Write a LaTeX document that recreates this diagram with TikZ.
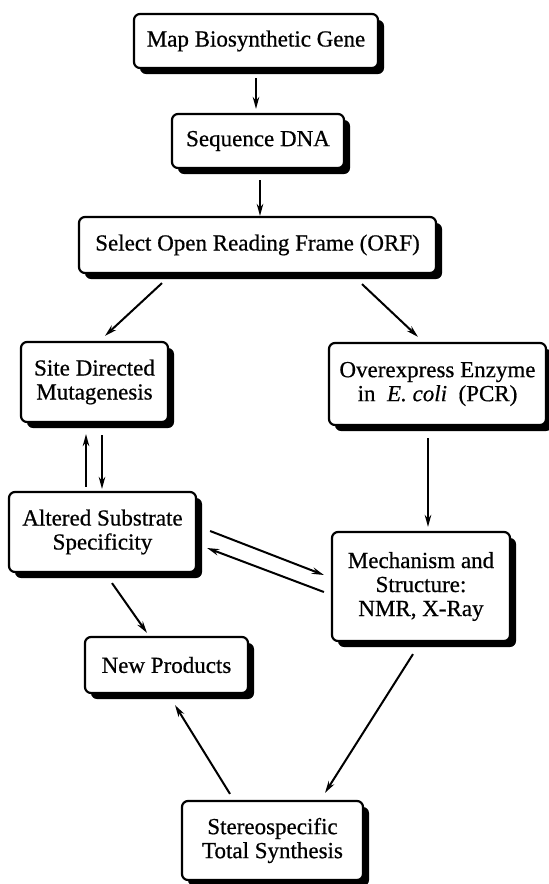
\documentclass[tikz,border=0pt]{standalone}
\usepackage{fontspec}
\setmainfont{Liberation Serif}
\newfontfamily\boxfont[FakeBold=0.6]{Liberation Serif}
\usetikzlibrary{arrows.meta,shadows,calc}
\begin{document}
\begin{tikzpicture}[x=1pt,y=-1pt,
  box/.style={draw, line width=2.2pt, rounded corners=6pt, fill=white,
    drop shadow={shadow xshift=6pt, shadow yshift=-6pt, opacity=1, fill=black},
    inner sep=0pt, align=center, font=\boxfont\fontsize{23}{24}\selectfont},
  arr/.style={line width=2pt, -{Stealth[length=12pt,width=6.5pt]}}]
\useasboundingbox (0,0) rectangle (549,884);
\node[box, minimum width=244pt, minimum height=54pt] (map) at (256,41) {Map Biosynthetic Gene};
\node[box, minimum width=172pt, minimum height=54pt] (seq) at (258,141) {Sequence DNA};
\node[box, minimum width=357pt, minimum height=56pt] (orf) at (257.5,245) {Select Open Reading Frame (ORF)};
\node[box, minimum width=147pt, minimum height=80pt] (site) at (94.5,382) {Site Directed\\Mutagenesis};
\node[box, minimum width=217pt, minimum height=82pt] (over) at (437.5,384) {Overexpress Enzyme\\in\ \ {\fontspec[FakeBold=0.6]{Liberation Serif Italic}E. coli}\ \ (PCR)};
\node[box, minimum width=187pt, minimum height=80pt] (alt) at (102.5,532) {Altered Substrate\\Specificity};
\node[box, minimum width=178pt, minimum height=109pt] (mech) at (421,586.5) {Mechanism and\\Structure:\\NMR, X-Ray};
\node[box, minimum width=163pt, minimum height=56pt] (newp) at (166.5,665) {New Products};
\node[box, minimum width=181pt, minimum height=79pt] (stereo) at (272.5,840.5) {Stereospecific\\Total Synthesis};

\draw[arr] ($(map.south)+(0,9)$) -- ($(seq.north)+(-2,-4)$);
\draw[arr] ($(seq.south)+(2,11)$) -- ($(orf.north)+(2.5,0)$);
\draw[arr] ($(orf.south)+(-95.5,9)$) -- ($(site.north)+(10.5,-5)$);
\draw[arr] ($(orf.south)+(104.5,10)$) -- ($(over.north)+(-19.5,-5)$);
\draw[arr] ($(alt.north)+(-16.5,-4)$) -- ($(site.south)+(-8.5,11)$);
\draw[arr] ($(site.south)+(7.5,12)$) -- ($(alt.north)+(-0.5,-2)$);
\draw[arr] ($(over.south)+(-9.5,12)$) -- ($(mech.north)+(7,-4)$);
\draw[arr] ($(alt.east)+(13,-1)$) -- ($(mech.west)+(-7,-11.5)$);
\draw[arr] ($(mech.west)+(-7,5.5)$) -- ($(alt.east)+(10,16)$);
\draw[arr] ($(alt.south)+(9.5,10)$) -- ($(newp.north)+(-19.5,-3)$);
\draw[arr] ($(stereo.north)+(-42.5,-6)$) -- ($(newp.south)+(8.5,11)$);
\draw[arr] ($(mech.south)+(-8,12)$) -- ($(stereo.north)+(52.5,-7)$);
\end{tikzpicture}
\end{document}
